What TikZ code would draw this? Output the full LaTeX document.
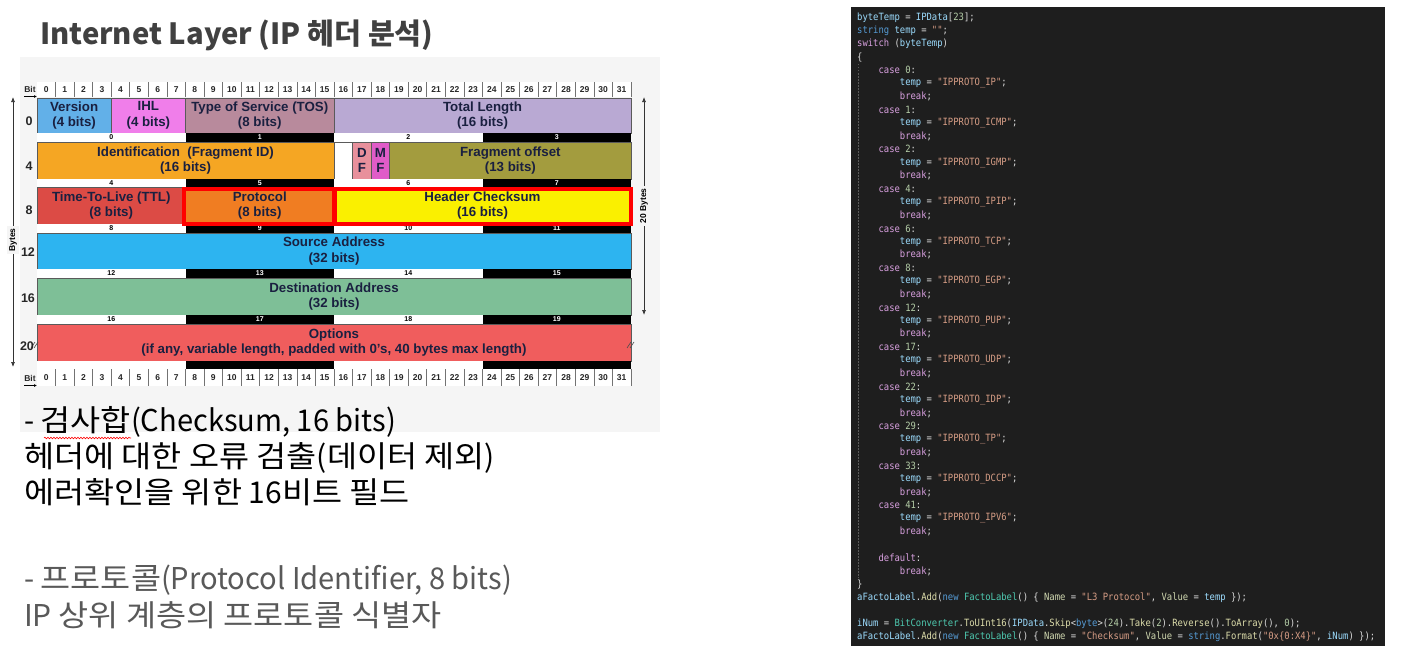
\documentclass[tikz,border=0pt]{standalone}
\usepackage{fontspec}
\setmainfont{Liberation Sans}
\newfontfamily\kr{Noto Sans CJK KR}
\newfontfamily\krh[FakeStretch=1.09]{Noto Sans CJK KR}
\newfontfamily\krl[FakeStretch=0.97]{Noto Sans CJK KR}
\newfontfamily\codefont[FakeStretch=0.887]{DejaVu Sans Mono}
\usetikzlibrary{arrows.meta,decorations.pathmorphing}
\definecolor{diagbg}{HTML}{F5F5F5}
\definecolor{fieldline}{HTML}{5A5A5A}
\definecolor{fieldtxt}{HTML}{1A2040}
\definecolor{cVer}{HTML}{62B0E8}
\definecolor{cIHL}{HTML}{F07EEA}
\definecolor{cTOS}{HTML}{B88A9C}
\definecolor{cTL}{HTML}{B9A9D3}
\definecolor{cID}{HTML}{F5A623}
\definecolor{cDF}{HTML}{E8909C}
\definecolor{cMF}{HTML}{E05CC8}
\definecolor{cFO}{HTML}{A39C3E}
\definecolor{cTTL}{HTML}{DC4B45}
\definecolor{cPR}{HTML}{F07D22}
\definecolor{cCS}{HTML}{FAF000}
\definecolor{cSA}{HTML}{2DB4F0}
\definecolor{cDA}{HTML}{7EBF97}
\definecolor{cOP}{HTML}{F05D5D}
\definecolor{hilite}{HTML}{FF0000}
\definecolor{titlegray}{HTML}{404040}
\definecolor{notegray}{HTML}{595959}
\definecolor{codebg}{HTML}{1E1E1E}
\definecolor{cvar}{HTML}{9CDCFE}
\definecolor{ckw}{HTML}{569CD6}
\definecolor{cctl}{HTML}{D8A0DF}
\definecolor{cnum}{HTML}{B5CEA8}
\definecolor{cstr}{HTML}{D69D85}
\definecolor{ctype}{HTML}{4EC9B0}
\definecolor{cfun}{HTML}{DCDCAA}
\definecolor{cpun}{HTML}{DCDCDC}
\definecolor{cprop}{HTML}{D0D8B0}
\definecolor{guide}{HTML}{5A5A5A}
\newcommand\cv[1]{\textcolor{cvar}{#1}}
\newcommand\ck[1]{\textcolor{ckw}{#1}}
\newcommand\cc[1]{\textcolor{cctl}{#1}}
\newcommand\cn[1]{\textcolor{cnum}{#1}}
\newcommand\cs[1]{\textcolor{cstr}{#1}}
\newcommand\ct[1]{\textcolor{ctype}{#1}}
\newcommand\cf[1]{\textcolor{cfun}{#1}}
\newcommand\cp[1]{\textcolor{cprop}{#1}}
\newcommand\hg[1]{{\krh #1}}
\newcommand\lt[1]{{\krl #1}}
% name, bit1, bit2, ytop, ybot, colour, text
\newcommand\fieldnode[7]{%
  \node[fieldbox, fill=#6, minimum width={(#3-#2)*18.5625pt}, minimum height={(#5-#4)*1pt}]
    (#1) at ({37+(#2+#3)*9.28125},{(#4+#5)/2}) {#7};}
\newcommand\codeline[3]{% line number, indent level, content
  \node[codetxt] (cl#1) at ({857+#2*21.36},{17.5+(#1-1)*13.18}) {#3};}
\begin{document}
\begin{tikzpicture}[x=1pt,y=-1pt,
  fieldbox/.style={draw=fieldline, line width=0.6pt, inner sep=0pt, align=center,
    text=fieldtxt, font=\bfseries\fontsize{13.3}{15.5}\selectfont},
  bitnum/.style={inner sep=0pt, font=\bfseries\fontsize{8.5}{8.5}\selectfont, text=black!85},
  stripbox/.style={inner sep=0pt, minimum width=148.5pt, font=\bfseries\fontsize{7}{7}\selectfont},
  rowlab/.style={inner sep=0pt, font=\bfseries\fontsize{12.5}{12.5}\selectfont, text=black!85},
  hibox/.style={draw=hilite, line width=4pt},
  codetxt/.style={anchor=west, inner sep=0pt, text=cpun, font=\codefont\fontsize{10}{10}\selectfont},
  krtext/.style={anchor=west, inner sep=0pt, font=\kr\fontsize{30}{30}\selectfont},
  arr/.style={line width=0.7pt, draw=black!80}
]
\useasboundingbox (0,0) rectangle (1405,669);
\fill[white] (0,0) rectangle (1405,669);

% ---------- title ----------
\node[anchor=west, inner sep=0pt, text=titlegray, font=\kr\bfseries\fontsize{29.2}{29.2}\selectfont]
  (title) at (40,35) {Internet Layer (IP 헤더 분석)};

% ---------- diagram background ----------
\fill[diagbg] (20,57) rectangle (660,432);

% bit rows
\fill[white] (37,82) rectangle (631,97);
\fill[white] (37,369) rectangle (631,386);
\foreach \b in {0,...,31} {
  \node[bitnum] (tb\b) at ({37+(\b+0.5)*18.5625},89.5) {\b};
  \node[bitnum] (bb\b) at ({37+(\b+0.5)*18.5625},378) {\b};
}
\foreach \b in {1,...,32} {
  \draw[black!55, line width=0.7pt] ({37+\b*18.5625},82) -- ({37+\b*18.5625},97);
  \draw[black!55, line width=0.7pt] ({37+\b*18.5625},369) -- ({37+\b*18.5625},386);
}
\node[bitnum, font=\bfseries\fontsize{8.5}{8.5}\selectfont] (bitT) at (30,89) {Bit};
\coordinate (bitTa) at (24,96.5); \coordinate (bitTb) at (37,96.5);
\draw[-{Latex[length=3pt,width=3pt]}, line width=0.6pt] (bitTa) -- (bitTb);
\node[bitnum, font=\bfseries\fontsize{8.5}{8.5}\selectfont] (bitB) at (30,378) {Bit};
\coordinate (bitBa) at (24,385.5); \coordinate (bitBb) at (37,385.5);
\draw[-{Latex[length=3pt,width=3pt]}, line width=0.6pt] (bitBa) -- (bitBb);

% ---------- fields ----------
\fieldnode{ver}{0}{4}{98}{133}{cVer}{Version\\(4 bits)}
\fieldnode{ihl}{4}{8}{98}{133}{cIHL}{IHL\\(4 bits)}
\fieldnode{tos}{8}{16}{98}{133}{cTOS}{Type of Service (TOS)\\(8 bits)}
\fieldnode{tl}{16}{32}{98}{133}{cTL}{Total Length\\(16 bits)}
\fieldnode{id}{0}{16}{142}{179}{cID}{Identification \ (Fragment ID)\\(16 bits)}
\fieldnode{res}{16}{17}{142}{179}{white}{}
\fieldnode{df}{17}{18}{142}{179}{cDF}{D\\F}
\fieldnode{mf}{18}{19}{142}{179}{cMF}{M\\F}
\fieldnode{fo}{19}{32}{142}{179}{cFO}{Fragment offset\\(13 bits)}
\fieldnode{ttl}{0}{8}{187}{224}{cTTL}{Time-To-Live (TTL)\\(8 bits)}
\fieldnode{pr}{8}{16}{187}{224}{cPR}{Protocol\\(8 bits)}
\fieldnode{cs}{16}{32}{187}{224}{cCS}{Header Checksum\\(16 bits)}
\fieldnode{sa}{0}{32}{233}{269}{cSA}{Source Address\\(32 bits)}
\fieldnode{da}{0}{32}{278}{315}{cDA}{Destination Address\\(32 bits)}
\fieldnode{op}{0}{32}{324}{361}{cOP}{Options\\(if any, variable length, padded with 0's, 40 bytes max length)}

% byte strips
\foreach \t/\bt/\r in {133/142/0, 179/187/1, 224/233/2, 269/278/3, 315/324/4, 361/369/5} {
  \foreach \k in {0,...,3} {
    \pgfmathtruncatemacro\n{4*\r+\k}
    \ifnum\r=5 \def\lab{}\else\edef\lab{\n}\fi
    \ifodd\k
      \node[stripbox, fill=black, text=white, minimum height={(\bt-\t)*1pt}] (s\n) at ({37+(\k+0.5)*148.5},{(\t+\bt)/2}) {\lab};
    \else
      \node[stripbox, fill=white, text=black, minimum height={(\bt-\t)*1pt}] (s\n) at ({37+(\k+0.5)*148.5},{(\t+\bt)/2}) {\lab};
    \fi
  }
}

% break marks on options
\draw[black!70, line width=0.6pt] (31,348) -- (35,342) (34,348) -- (38,342);
\draw[black!70, line width=0.6pt] (627,348) -- (631,342) (630,348) -- (634,342);

% highlight boxes
\draw[hibox] (184,188.5) rectangle (334,223.5);
\draw[hibox] (335,188.5) rectangle (631,223.5);

% row labels
\node[rowlab] (r0) at (29,121) {0};
\node[rowlab] (r4) at (29,166) {4};
\node[rowlab] (r8) at (29,210) {8};
\node[rowlab] (r12) at (28,252) {12};
\node[rowlab] (r16) at (28,298) {16};
\node[rowlab] (r20) at (27,346) {20};

% byte arrows
\coordinate (ltop) at (13,97); \coordinate (lbot) at (13,367);
\draw[arr, {Latex[length=5pt,width=4pt]}-{Latex[length=5pt,width=4pt]}] (ltop) -- (lbot);
\node[rotate=90, fill=diagbg, inner sep=2pt, font=\bfseries\fontsize{8.5}{8.5}\selectfont] (bytesL) at (13,240) {Bytes};
\coordinate (rtop) at (644,97); \coordinate (rbot) at (644,315);
\draw[arr, {Latex[length=5pt,width=4pt]}-{Latex[length=5pt,width=4pt]}] (rtop) -- (rbot);
\node[rotate=90, fill=diagbg, inner sep=2.5pt, font=\bfseries\fontsize{8.5}{8.5}\selectfont] (bytesR) at (644,206) {20 Bytes};

% ---------- notes ----------
\node[krtext, text=black] (n1) at (24,422) {\lt{- }\hg{검사합}\lt{(Checksum, 16 bits)}};
\draw[hilite, line width=0.6pt, decorate, decoration={snake, amplitude=0.8pt, segment length=3pt}] (44,438) -- (131,438);
\node[krtext, text=black] (n2) at (24,458) {\hg{헤더에 대한 오류 검출}(\hg{데이터 제외})};
\node[krtext, text=black] (n3) at (24,492) {\hg{에러확인을 위한} 16\hg{비트 필드}};
\node[krtext, text=notegray] (n4) at (24,580) {\lt{- }\hg{프로토콜}\lt{(Protocol Identifier, 8 bits)}};
\node[krtext, text=notegray] (n5) at (24,615) {IP \hg{상위 계층의 프로토콜 식별자}};

% ---------- code panel ----------
\fill[codebg] (851,7) rectangle (1385,646);
\draw[guide, dash pattern=on 1.5pt off 1.5pt, line width=0.7pt] (858,64) -- (858,578);
\codeline{1}{0}{\cv{byteTemp} = \cv{IPData}[\cn{23}];}
\codeline{2}{0}{\ck{string} \cv{temp} = \cs{""};}
\codeline{3}{0}{\cc{switch} (\cv{byteTemp})}
\codeline{4}{0}{\{}
\codeline{5}{1}{\cc{case} \cn{0}:}
\codeline{6}{2}{\cv{temp} = \cs{"IPPROTO\_IP"};}
\codeline{7}{2}{\cc{break};}
\codeline{8}{1}{\cc{case} \cn{1}:}
\codeline{9}{2}{\cv{temp} = \cs{"IPPROTO\_ICMP"};}
\codeline{10}{2}{\cc{break};}
\codeline{11}{1}{\cc{case} \cn{2}:}
\codeline{12}{2}{\cv{temp} = \cs{"IPPROTO\_IGMP"};}
\codeline{13}{2}{\cc{break};}
\codeline{14}{1}{\cc{case} \cn{4}:}
\codeline{15}{2}{\cv{temp} = \cs{"IPPROTO\_IPIP"};}
\codeline{16}{2}{\cc{break};}
\codeline{17}{1}{\cc{case} \cn{6}:}
\codeline{18}{2}{\cv{temp} = \cs{"IPPROTO\_TCP"};}
\codeline{19}{2}{\cc{break};}
\codeline{20}{1}{\cc{case} \cn{8}:}
\codeline{21}{2}{\cv{temp} = \cs{"IPPROTO\_EGP"};}
\codeline{22}{2}{\cc{break};}
\codeline{23}{1}{\cc{case} \cn{12}:}
\codeline{24}{2}{\cv{temp} = \cs{"IPPROTO\_PUP"};}
\codeline{25}{2}{\cc{break};}
\codeline{26}{1}{\cc{case} \cn{17}:}
\codeline{27}{2}{\cv{temp} = \cs{"IPPROTO\_UDP"};}
\codeline{28}{2}{\cc{break};}
\codeline{29}{1}{\cc{case} \cn{22}:}
\codeline{30}{2}{\cv{temp} = \cs{"IPPROTO\_IDP"};}
\codeline{31}{2}{\cc{break};}
\codeline{32}{1}{\cc{case} \cn{29}:}
\codeline{33}{2}{\cv{temp} = \cs{"IPPROTO\_TP"};}
\codeline{34}{2}{\cc{break};}
\codeline{35}{1}{\cc{case} \cn{33}:}
\codeline{36}{2}{\cv{temp} = \cs{"IPPROTO\_DCCP"};}
\codeline{37}{2}{\cc{break};}
\codeline{38}{1}{\cc{case} \cn{41}:}
\codeline{39}{2}{\cv{temp} = \cs{"IPPROTO\_IPV6"};}
\codeline{40}{2}{\cc{break};}
\codeline{42}{1}{\cc{default}:}
\codeline{43}{2}{\cc{break};}
\codeline{44}{0}{\}}
\codeline{45}{0}{\cv{aFactoLabel}.\cf{Add}(\ck{new} \ct{FactoLabel}() \{ \cp{Name} = \cs{"L3 Protocol"}, \cp{Value} = \cv{temp} \});}
\codeline{47}{0}{\cv{iNum} = \ct{BitConverter}.\cf{ToUInt16}(\cv{IPData}.\cf{Skip}<\ck{byte}>(\cn{24}).\cf{Take}(\cn{2}).\cf{Reverse}().\cf{ToArray}(), \cn{0});}
\codeline{48}{0}{\cv{aFactoLabel}.\cf{Add}(\ck{new} \ct{FactoLabel}() \{ \cp{Name} = \cs{"Checksum"}, \cp{Value} = \ck{string}.\cf{Format}(\cs{"0x\{0:X4\}"}, \cv{iNum}) \});}
\end{tikzpicture}
\end{document}
